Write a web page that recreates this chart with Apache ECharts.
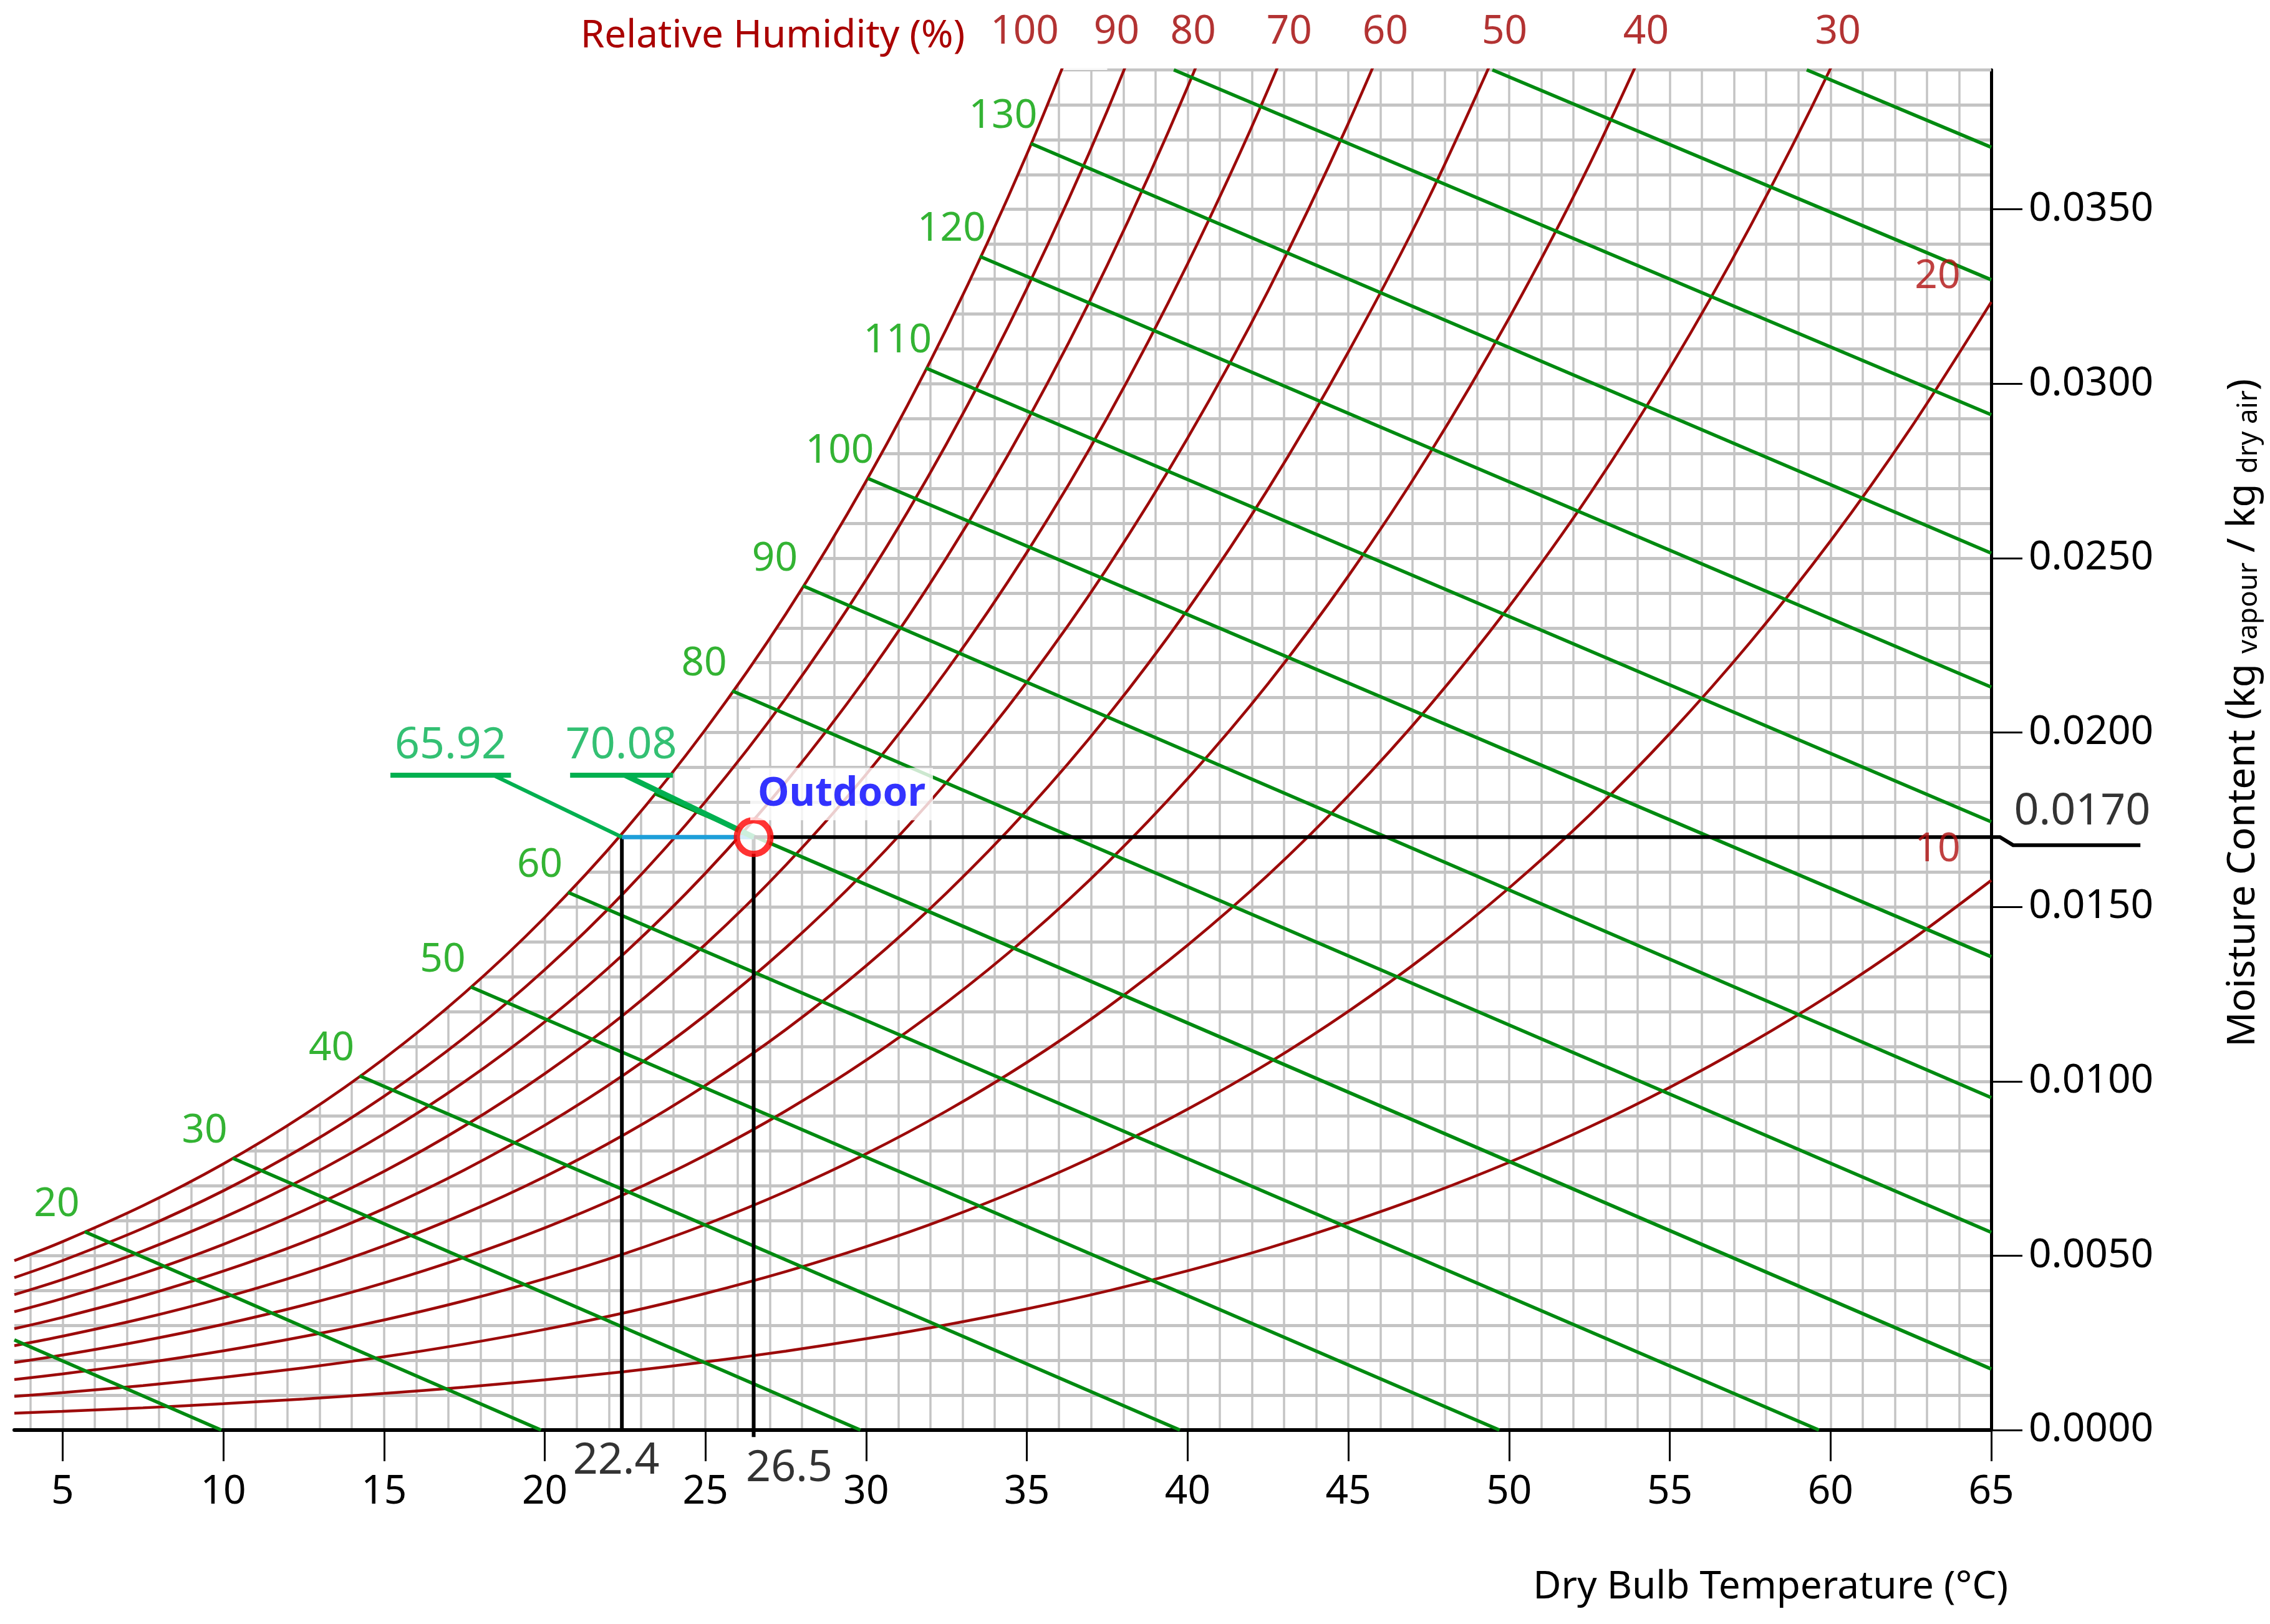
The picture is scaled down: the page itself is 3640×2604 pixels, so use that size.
<!DOCTYPE html>
<html><head><meta charset="utf-8">
<script src="https://cdn.jsdelivr.net/npm/echarts@6/dist/echarts.min.js"></script>
<style>html,body{margin:0;padding:0;background:#fff}#c{width:3640px;height:2604px}</style>
</head><body><div id="c"></div>
<script>
// ---------- data ----------
const temps = [3.5,5,7.5,10,12.5,15,17.5,20,22.5,25,27.5,30,32.5,35,37.5,40,42.5,45,47.5,50,52.5,55,57.5,60,62.5,65];
const rh100 = [0.004858,0.005403,0.006433,0.007632,0.009028,0.010650,0.012529,0.014699,0.017202,0.020086,0.023398,0.027210,0.031581,0.036584,0.042317];
const rh90 = [0.004369,0.004859,0.005784,0.006860,0.008114,0.009569,0.011253,0.013198,0.015439,0.018019,0.020979,0.024382,0.028279,0.032733,0.037828,0.043661];
const rh80 = [0.003881,0.004315,0.005136,0.006091,0.007202,0.008491,0.009983,0.011704,0.013686,0.015966,0.018579,0.021579,0.025011,0.028927,0.033400,0.038509,0.044320];
const rh70 = [0.003393,0.003772,0.004489,0.005323,0.006293,0.007417,0.008717,0.010217,0.011942,0.013925,0.016196,0.018800,0.021775,0.025165,0.029029,0.033437,0.038429,0.044154];
const rh60 = [0.002906,0.003231,0.003844,0.004557,0.005386,0.006346,0.007457,0.008737,0.010208,0.011898,0.013831,0.016045,0.018572,0.021446,0.024718,0.028442,0.032658,0.037467,0.042875];
const rh50 = [0.002420,0.002690,0.003200,0.003793,0.004482,0.005280,0.006202,0.007264,0.008484,0.009883,0.011483,0.013313,0.015400,0.017769,0.020463,0.023522,0.026979,0.030912,0.035323,0.040370];
const rh40 = [0.001934,0.002150,0.002557,0.003030,0.003580,0.004217,0.004952,0.005797,0.006768,0.007882,0.009152,0.010605,0.012259,0.014134,0.016263,0.018677,0.021398,0.024486,0.027960,0.031882,0.036283,0.041268];
const rh30 = [0.001450,0.001611,0.001916,0.002270,0.002681,0.003157,0.003706,0.004338,0.005062,0.005892,0.006839,0.007920,0.009149,0.010541,0.012118,0.013903,0.015911,0.018185,0.020737,0.023609,0.026821,0.030446,0.034508,0.039038,0.044123];
const rh20 = [0.000966,0.001073,0.001276,0.001512,0.001785,0.002101,0.002466,0.002885,0.003366,0.003916,0.004543,0.005258,0.006069,0.006988,0.008026,0.009200,0.010518,0.012007,0.013673,0.015542,0.017627,0.019972,0.022587,0.025492,0.028736,0.032342];
const rh10 = [0.000482,0.000536,0.000637,0.000755,0.000891,0.001049,0.001231,0.001439,0.001678,0.001952,0.002263,0.002618,0.003019,0.003474,0.003986,0.004566,0.005214,0.005946,0.006762,0.007675,0.008691,0.009828,0.011092,0.012490,0.014043,0.015761];
const rhLevels = [100,90,80,70,60,50,40,30,20,10];
const rhCurves = [rh100,rh90,rh80,rh70,rh60,rh50,rh40,rh30,rh20,rh10];
const saturationTopT = 36.05;

const rhTopLabelText = ['100','90','80','70','60','50','40','30'];
const rhTopLabelT = [34.93,37.79,40.17,43.16,46.15,49.86,54.26,60.23];
const rhSideLabelText = ['20','10'];
const rhSideLabelT = [63.33,63.33];
const rhSideLabelW = [0.03307,0.01663];

const enthalpyValues = [10,20,30,40,50,60,70,80,90,100,110,120,130,140,150,160];
const enthalpyStartT = [3.5,5.69,10.29,14.24,17.70,20.72,23.41,25.83,28.03,30.05,31.85,33.53,35.13,39.57,49.48,59.26];
const enthalpyStartW = [0.002584,0.005686,0.007797,0.010157,0.012704,0.015420,0.018255,0.021193,0.024206,0.027287,0.030451,0.033655,0.036886,0.039,0.039,0.039];
const enthalpyEndT = [9.94,19.88,29.82,39.76,49.70,59.64,65,65,65,65,65,65,65,65,65,65];
const enthalpyEndW = [0,0,0,0,0,0,0.00175,0.00567,0.00953,0.01357,0.01744,0.02130,0.02514,0.02911,0.03298,0.03678];
const enthalpyLabelValues = [20,30,40,50,60,80,90,100,110,120,130];

const xTicks = [5,10,15,20,25,30,35,40,45,50,55,60,65];
const yTicks = [0,0.005,0.010,0.015,0.020,0.025,0.030,0.035];

const outdoorPoint = [26.5, 0.017];
const dewPointT = 22.4;
const outdoorW = 0.017;
const hDewText = '65.92';
const hOutdoorText = '70.08';
// callout geometry (data units)
const wUnderline = 0.018777;
const leaderDewEnd = [18.40, 0.018777];
const underlineDewT = [15.20, 18.95];
const leaderOutEnd = [22.50, 0.018777];
const underlineOutT = [20.79, 23.99];
const hDewLabelT = 17.07, hOutLabelT = 22.38;
const wCalloutT = [26.5, 65, 65.27, 65.68, 69.64];
const wCalloutW = [0.017, 0.017, 0.017, 0.01677, 0.01677];
const wCalloutLabelT = 67.83;
const outdoorDropEndW = -0.0002;

// ---------- style ----------
const F = "'Noto Sans','Open Sans',sans-serif";
const RED = '#9c0a0a';
const GREEN = '#008a10';
const LGREEN = '#00b050';

const series = [];
rhLevels.forEach((rh, k) => {
  const s = {
    type: 'line', name: 'RH ' + rh,
    data: rhCurves[k].map((w, i) => [temps[i], w]),
    showSymbol: false, smooth: 0.3, silent: true, z: 3,
    lineStyle: { color: RED, width: 4.5 }
  };
  if (rh === 100) s.areaStyle = { color: '#ffffff', opacity: 1, origin: 'end' };
  series.push(s);
});
// top grid border right of saturation
series.push({ type: 'line', data: [[saturationTopT, 0.039], [65, 0.039]], showSymbol: false, silent: true, z: 2,
  lineStyle: { color: '#c4c4c4', width: 5 } });
enthalpyValues.forEach((h, i) => {
  series.push({
    type: 'line', name: 'h ' + h, silent: true, z: 4, showSymbol: false,
    data: [[enthalpyStartT[i], enthalpyStartW[i]], [enthalpyEndT[i], enthalpyEndW[i]]],
    lineStyle: { color: GREEN, width: 5.5 }
  });
});
// annotations (custom series so they may extend past the axes)
const poly = (pts, color, width, z) => ({
  type: 'custom', coordinateSystem: 'cartesian2d', clip: false, silent: true, z: z || 6,
  data: [pts[0]],
  renderItem: (params, api) => ({
    type: 'polyline',
    shape: { points: pts.map(p => api.coord(p)) },
    style: { stroke: color, lineWidth: width, fill: null, lineJoin: 'miter' }
  })
});
series.push(poly(wCalloutT.map((t, i) => [t, wCalloutW[i]]), '#000', 6, 6));
series.push(poly([[dewPointT, outdoorW], [dewPointT, 0]], '#000', 6, 6));
series.push(poly([outdoorPoint, [outdoorPoint[0], outdoorDropEndW]], '#000', 6, 6));
series.push(poly([[dewPointT, outdoorW], outdoorPoint], '#1e9fd9', 7, 7));
series.push(poly([[dewPointT, outdoorW], leaderDewEnd], LGREEN, 6, 7));
series.push(poly([[underlineDewT[0], wUnderline], [underlineDewT[1], wUnderline]], LGREEN, 8, 7));
series.push(poly([outdoorPoint, leaderOutEnd], LGREEN, 9, 7));
series.push(poly([[underlineOutT[0], wUnderline], [underlineOutT[1], wUnderline]], LGREEN, 8, 7));

const labelScatter = (data, z) => ({ type: 'scatter', symbolSize: 0, silent: true, clip: false, z: z || 8, data });
series.push(labelScatter(enthalpyLabelValues.map(h => {
  const i = enthalpyValues.indexOf(h);
  return { value: [enthalpyStartT[i], enthalpyStartW[i]],
    label: { show: true, formatter: String(h), position: 'inside', offset: [-45, -43], color: '#00a000', fontSize: 64, fontFamily: F } };
})));
series.push(labelScatter(rhTopLabelText.map((t, i) => ({ value: [rhTopLabelT[i], 0.039],
  label: { show: true, formatter: t, position: 'inside', offset: [0, -60], color: '#a00000', fontSize: 64, fontFamily: F } }))));
series.push(labelScatter(rhSideLabelText.map((t, i) => ({ value: [rhSideLabelT[i], rhSideLabelW[i]],
  label: { show: true, formatter: t, position: 'inside', color: '#b01010', fontSize: 64, fontFamily: F } }))));
series.push(labelScatter([
  { value: [hDewLabelT, wUnderline], label: { show: true, formatter: hDewText, position: 'top', distance: 12, color: LGREEN, fontSize: 70, fontFamily: F } },
  { value: [hOutLabelT, wUnderline], label: { show: true, formatter: hOutdoorText, position: 'top', distance: 12, color: LGREEN, fontSize: 70, fontFamily: F } }
]));
series.push(labelScatter([
  { value: [dewPointT, 0], label: { show: true, formatter: String(dewPointT), position: 'inside', offset: [-9, 50], color: '#000', fontSize: 70, fontFamily: F } },
  { value: [outdoorPoint[0], 0], label: { show: true, formatter: String(outdoorPoint[0]), position: 'inside', offset: [57, 62], color: '#000', fontSize: 70, fontFamily: F } },
  { value: [wCalloutLabelT, outdoorW], label: { show: true, formatter: outdoorW.toFixed(4), position: 'top', distance: 5, color: '#000', fontSize: 70, fontFamily: F } }
]));
series.push({
  type: 'scatter', silent: true, z: 10, symbol: 'circle', symbolSize: 54,
  itemStyle: { color: '#ffffff', borderColor: '#ff0000', borderWidth: 10 },
  data: [{ value: outdoorPoint, label: { show: true, formatter: 'Outdoor', position: 'inside', offset: [141, -69],
    color: '#0000ff', fontWeight: 'bold', fontSize: 64, fontFamily: F, backgroundColor: '#ffffff', padding: [10, 12] } }]
});

const option = {
  animation: false,
  backgroundColor: '#ffffff',
  grid: { left: 23, right: 447, top: 112, bottom: 311, containLabel: false },
  xAxis: [
    { type: 'value', min: 3.5, max: 65, position: 'bottom',
      axisLine: { show: true, onZero: false, lineStyle: { color: '#000', width: 6 } },
      axisTick: { show: true, customValues: xTicks, length: 50, lineStyle: { color: '#000', width: 3 } },
      axisLabel: { show: true, customValues: xTicks, margin: 68, fontSize: 64, color: '#000', fontFamily: F },
      splitLine: { show: false } },
    { type: 'value', min: 3.5, max: 65, minInterval: 1, maxInterval: 1, position: 'top',
      axisLine: { show: false }, axisTick: { show: false }, axisLabel: { show: false },
      splitLine: { show: true, showMinLine: false, showMaxLine: false, lineStyle: { color: '#c4c4c4', width: 3.5 } } }
  ],
  yAxis: [
    { type: 'value', min: 0, max: 0.039, position: 'right',
      axisLine: { show: true, onZero: false, lineStyle: { color: '#000', width: 5 } },
      axisTick: { show: true, customValues: yTicks, length: 50, lineStyle: { color: '#000', width: 3 } },
      axisLabel: { show: true, customValues: yTicks, margin: 60, fontSize: 64, color: '#000', fontFamily: F, formatter: v => v.toFixed(4) },
      splitLine: { show: false } },
    { type: 'value', min: 0, max: 0.039, interval: 0.001, position: 'left',
      axisLine: { show: false }, axisTick: { show: false }, axisLabel: { show: false },
      splitLine: { show: true, showMinLine: false, showMaxLine: false, lineStyle: { color: '#c4c4c4', width: 5 } } }
  ],
  graphic: [
    { type: 'text', x: 1239, y: 58, silent: true, style: { text: 'Relative Humidity (%)', fill: '#aa0000', fontSize: 62, fontFamily: F, align: 'center', verticalAlign: 'middle' } },
    { type: 'text', x: 402, y: 1434, silent: true, style: { text: 'Enthalpy (kJ/kg)', fill: LGREEN, fontSize: 62, fontFamily: F, align: 'center', verticalAlign: 'middle' } },
    { type: 'text', x: 3220, y: 2545, silent: true, style: { text: 'Dry Bulb Temperature (°C)', fill: '#000', fontSize: 62, fontFamily: F, align: 'right', verticalAlign: 'middle' } },
    { type: 'text', x: 3597, y: 1143, rotation: Math.PI / 2, silent: true,
      style: { text: '{a|Moisture Content (kg }{b|vapour}{a| / kg }{b|dry air}{a|)}', fill: '#000', align: 'center', verticalAlign: 'middle',
        rich: { a: { fontSize: 62, fontFamily: F, fill: '#000' }, b: { fontSize: 44, fontFamily: F, fill: '#000', verticalAlign: 'bottom' } } } }
  ],
  series
};
const chart = echarts.init(document.getElementById('c'), null, { renderer: 'canvas' });
chart.setOption(option);
</script></body></html>
